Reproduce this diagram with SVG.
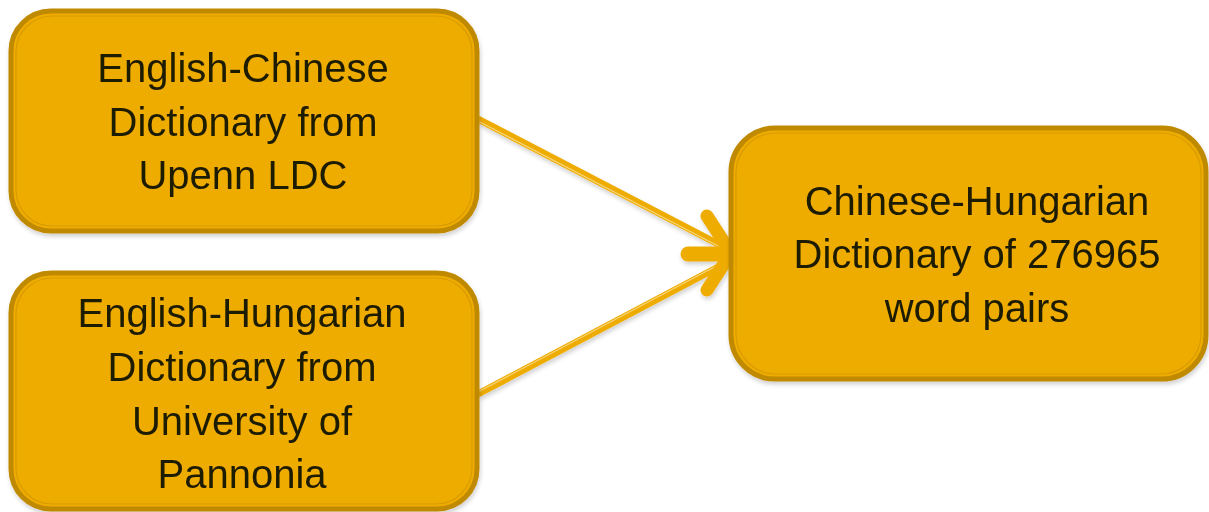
<svg xmlns="http://www.w3.org/2000/svg" width="1209" height="512" viewBox="0 0 1209 512">
<defs>
<style>
.box{fill:#efac00;stroke:#c08a00;stroke-width:5}
.inner{fill:none;stroke:#d89c00;stroke-width:1.2}
.t{font-family:"Liberation Sans",Arial,sans-serif;font-size:40px;fill:#1f1a05;text-anchor:middle}
.ln{stroke:#efac00;stroke-width:7;fill:none;stroke-linecap:butt}
.lnin{stroke:#f6d47a;stroke-width:1.3;fill:none}
.ah{stroke:#efac00;stroke-width:13;fill:none;stroke-linecap:round;stroke-linejoin:round}
</style>
<filter id="sh" x="-10%" y="-10%" width="120%" height="130%">
<feDropShadow dx="1" dy="3" stdDeviation="2" flood-color="#000" flood-opacity="0.18"/>
</filter>
</defs>
<g id="connectors" filter="url(#sh)">
<line class="ln" x1="478" y1="119" x2="724" y2="247"/>
<line class="lnin" x1="478" y1="121" x2="722" y2="248"/>
<line class="ln" x1="478" y1="394" x2="724" y2="264"/>
<line class="lnin" x1="478" y1="392" x2="722" y2="263"/>
<path class="ah" d="M707 216 L731 253 L707 290"/>
<line x1="688" y1="254" x2="728" y2="254" stroke="#efac00" stroke-width="15" stroke-linecap="round"/>
</g>
<g id="node1" filter="url(#sh)">
<rect class="box" x="11" y="11" width="466" height="220" rx="40"/>
<rect class="inner" x="16" y="16" width="456" height="210" rx="36"/>
<text class="t" x="243" y="82">English-Chinese</text>
<text class="t" x="243" y="136">Dictionary from</text>
<text class="t" x="243" y="189">Upenn LDC</text>
</g>
<g id="node2" filter="url(#sh)">
<rect class="box" x="11" y="273" width="466" height="236" rx="40"/>
<rect class="inner" x="16" y="278" width="456" height="226" rx="36"/>
<text class="t" x="242" y="327">English-Hungarian</text>
<text class="t" x="242" y="381">Dictionary from</text>
<text class="t" x="242" y="435">University of</text>
<text class="t" x="242" y="488">Pannonia</text>
</g>
<g id="node3" filter="url(#sh)">
<rect class="box" x="731" y="128" width="475" height="251" rx="44"/>
<rect class="inner" x="736" y="133" width="465" height="241" rx="40"/>
<text class="t" x="977" y="215">Chinese-Hungarian</text>
<text class="t" x="977" y="268">Dictionary of 276965</text>
<text class="t" x="977" y="322">word pairs</text>
</g>
</svg>
